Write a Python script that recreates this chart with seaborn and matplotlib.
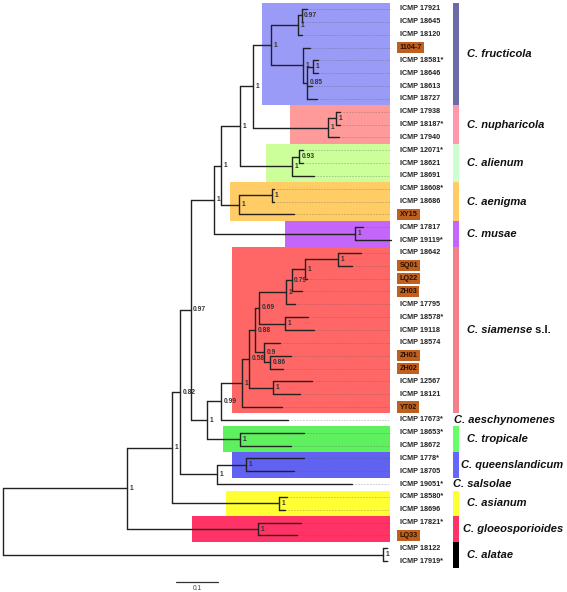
import matplotlib
matplotlib.use("Agg")
import matplotlib.pyplot as plt
import matplotlib.transforms as mtransforms
from matplotlib.patches import Rectangle
import seaborn as sns
import pandas as pd

# ---------------- data ----------------
# clade sub-trees (Newick pieces, branch lengths in substitutions/site, node labels = posterior support)
fructicola = ("(((ICMP 17921:0.0126,ICMP 18645:0.0031)0.97:0.0088,ICMP 18120:0.0095)1:0.065,"
              "(1104-7:0.0167,((ICMP 18581*:0.0112,ICMP 18646:0.0112)1:0.015,ICMP 18613:0.0119,"
              "ICMP 18727:0.0238)0.85:0.0095)1:0.0769)1:0.0429")
nupharicola = "((ICMP 17938:0.0102,ICMP 18187*:0.0102)1:0.019,ICMP 17940:0.0269)1:0.1786"
alienum = "((ICMP 12071*:0.0095,ICMP 18621:0.0095)0.93:0.016,ICMP 18691:0.0517)1:0.1245"
aenigma = "((ICMP 18608*:0.0055,ICMP 18686:0.0055)1:0.0771,XY15:0.1302)1:0.0436"
musae = "(ICMP 17817:0.019,ICMP 19119*:0.085)1:0.3357"
sia_a = "((ICMP 18642:0.0533,SQ01:0.0319)1:0.0793,LQ22:0.004)1:0.0317"
sia_b = "((" + sia_a + ",ZH03:0.0238)0.79:0.0136,ICMP 17795:0.0214)1:0.0636"
sia_c = "(ICMP 18578*:0.054,ICMP 19118:0.0698)1:0.0612"
sia_d = "(ICMP 18574:0.0374,(ZH01:0.05,ZH02:0.031)0.86:0.0136)0.9:0.0221"
sia_e = "(ICMP 12567:0.0914,ICMP 18121:0.0636)1:0.0579"
siamense = "(((" + sia_b + "," + sia_c + ")0.69:0.0102," + sia_d + ")0.88:0.0143," + sia_e + ")0.58:0.016"
siamense = "(" + siamense + ",YT02:0.0938)1:0.0507"
aeschynomenes = "ICMP 17673*:0.1602"
tropicale = "(ICMP 18653*:0.1524,ICMP 18672:0.1207)1:0.0793"
queenslandicum = "(ICMP 1778*:0.1388,ICMP 18705:0.115)1:0.0683"
salsolae = "ICMP 19051*:0.3207"
asianum = "(ICMP 18580*:0.0198,ICMP 18696:0.0150)1:0.2548"
gloeosporioides = "(ICMP 17821*:0.1031,LQ33:0.0929)1:0.3105"
alatae = "(ICMP 18122:0.0083,ICMP 17919*:0.0083)1:0.9052"

n_a = "(" + fructicola + "," + nupharicola + ")1:0.0302"
n_b = "(" + n_a + "," + alienum + ")1:0.0452"
n_c = "(" + n_b + "," + aenigma + ")1:0.0167"
n_d = "(" + n_c + "," + musae + ")1:0.0555"
n_h = "(" + siamense + "," + aeschynomenes + ")0.99:0.034"
n_g = "(" + n_h + "," + tropicale + ")1:0.0381"
n_e = "(" + n_d + "," + n_g + ")0.97:0.0248"
n_i = "(" + queenslandicum + "," + salsolae + ")1:0.0874"
n_j = "(" + n_e + "," + n_i + ")0.82:0.0205"
n_k = "(" + n_j + "," + asianum + ")1:0.1057"
n_l = "(" + n_k + "," + gloeosporioides + ")1:0.2952"
tree_newick = "(" + n_l + "," + alatae + ");"

highlighted = ["1104-7", "XY15", "SQ01", "LQ22", "ZH03", "ZH01", "ZH02", "YT02", "LQ33"]

species = ["C. fructicola", "C. nupharicola", "C. alienum", "C. aenigma", "C. musae",
           "C. siamense", "C. aeschynomenes", "C. tropicale", "C. queenslandicum",
           "C. salsolae", "C. asianum", "C. gloeosporioides", "C. alatae"]
species_counts = [8, 3, 3, 3, 2, 13, 1, 2, 2, 1, 2, 2, 2]

# ---------------- styles / layout ----------------
box_colors = ["#9a9af7", "#ff9a9a", "#ccff99", "#ffcc66", "#c466fa", "#ff6666", None,
              "#5ff05f", "#6262f2", None, "#ffff33", "#ff3366", None]
bar_colors = ["#6b6ba6", "#ff99aa", "#ccffcc", "#ffcc66", "#c466fa", "#f5808a", None,
              "#66ff66", "#6666ff", None, "#ffff33", "#ff3366", "#000000"]
box_left = [0.616, 0.6826, 0.6255, 0.5398, 0.6707, 0.5438, None, 0.5231, 0.5438, None,
            0.5295, 0.45, None]
box_right = 0.9207
name_x_px = [467, 467, 467, 467, 467, 467, 454, 467, 461, 453.3, 467, 462.7, 467]
W, H = 567, 592
PX_PER_UNIT = 420.0
ROOT_PX = 3.3
ROW0_PX, ROW_PX = 9.0, 12.84


def parse_newick(s):
    pos = 0

    def node():
        nonlocal pos
        n = {"children": [], "name": "", "bl": 0.0}
        if s[pos] == "(":
            pos += 1
            while True:
                n["children"].append(node())
                if s[pos] == ",":
                    pos += 1
                    continue
                pos += 1  # ')'
                break
        start = pos
        while s[pos] not in ":,();":
            pos += 1
        n["name"] = s[start:pos].strip()
        if s[pos] == ":":
            pos += 1
            start = pos
            while s[pos] not in ",();":
                pos += 1
            n["bl"] = float(s[start:pos])
        return n

    return node()


root = parse_newick(tree_newick)
leaves = []
segs = []
internal = []


def layout(n, parent_x):
    n["x"] = parent_x + n["bl"]
    if n["children"]:
        for c in n["children"]:
            layout(c, n["x"])
        n["y"] = (n["children"][0]["y"] + n["children"][-1]["y"]) / 2
        internal.append(n)
    else:
        n["y"] = len(leaves)
        leaves.append(n)


layout(root, 0.0)

sid = 0
for n in internal:
    segs.append((sid, n["x"], n["children"][0]["y"]))
    segs.append((sid, n["x"], n["children"][-1]["y"]))
    sid += 1
    for c in n["children"]:
        segs.append((sid, n["x"], c["y"]))
        segs.append((sid, c["x"], c["y"]))
        sid += 1
df = pd.DataFrame(segs, columns=["seg", "x", "y"])

# ---------------- drawing ----------------
sns.set_theme(style="white")
plt.rcParams["font.family"] = ["Liberation Sans", "DejaVu Sans"]

fig = plt.figure(figsize=(W / 100, H / 100), dpi=100)
ax = fig.add_axes([0, 0, 1, 1])
xmin = -ROOT_PX / PX_PER_UNIT
ax.set_xlim(xmin, xmin + W / PX_PER_UNIT)
ax.set_ylim((H - ROW0_PX) / ROW_PX, -ROW0_PX / ROW_PX)
ax.axis("off")
blend = mtransforms.blended_transform_factory(ax.transAxes, ax.transData)

# clade boxes, bars and names
start = 0
for sp, cnt, bc, barc, bl, nx in zip(species, species_counts, box_colors, bar_colors,
                                     box_left, name_x_px):
    y0, y1 = start - 0.5, start + cnt - 0.5
    if bc is not None:
        ax.add_patch(Rectangle((bl, y0), box_right - bl, y1 - y0, facecolor=bc,
                               edgecolor="none", zorder=0))
    if barc is not None:
        ax.add_patch(Rectangle((453.3 / W, y0), 5.4 / W, y1 - y0, facecolor=barc,
                               edgecolor="none", transform=blend, zorder=0))
    ymid = (y0 + y1) / 2
    if sp == "C. siamense":
        t = ax.text(nx / W, ymid, sp, transform=blend, fontsize=8, fontweight="bold",
                    style="italic", va="center", ha="left", color="#111")
        ax.annotate(" s.l.", xy=(1, 0.5), xycoords=t, fontsize=8, fontweight="bold",
                    va="center", ha="left", color="#111")
    else:
        ax.text(nx / W, ymid, sp, transform=blend, fontsize=8, fontweight="bold",
                style="italic", va="center", ha="left", color="#111")
    start += cnt

# guide lines from tips to box edge
for lf in leaves:
    if lf["x"] < box_right:
        ax.plot([lf["x"], box_right], [lf["y"], lf["y"]], color="#555", alpha=0.35,
                lw=0.6, ls=(0, (2, 1.5)), zorder=1)

# branches
sns.lineplot(data=df, x="x", y="y", units="seg", estimator=None, sort=False,
             color="#222222", lw=1.0, ax=ax, legend=False, zorder=2)
ax.set_xlabel("")
ax.set_ylabel("")
ax.axis("off")

# support values
for n in internal:
    if n["name"]:
        ax.text(n["x"] + 2.5 / PX_PER_UNIT, n["y"], n["name"], fontsize=4.8,
                fontweight="bold", color="#333", va="center", ha="left", zorder=3)

# leaf labels
for lf in leaves:
    if lf["name"] in highlighted:
        ax.text(399.5 / W, lf["y"], lf["name"], transform=blend, fontsize=5.2,
                fontweight="bold", color="#2a1000", va="center", ha="left",
                bbox=dict(boxstyle="square,pad=0.3", fc="#c0601f", ec="none"))
    else:
        ax.text(399.5 / W, lf["y"], lf["name"], transform=blend, fontsize=5.2,
                fontweight="bold", color="#222", va="center", ha="left")

# scale bar
scale_len = 0.1
sb_x0 = (176 - ROOT_PX) / PX_PER_UNIT
sb_y = (581.7 - ROW0_PX) / ROW_PX
ax.plot([sb_x0, sb_x0 + scale_len], [sb_y, sb_y], color="#333", lw=0.9)
ax.text(sb_x0 + scale_len / 2, (589 - ROW0_PX) / ROW_PX, str(scale_len), fontsize=4.8,
        color="#444", ha="center", va="center")

fig.savefig("out.png", dpi=100, facecolor="white")
